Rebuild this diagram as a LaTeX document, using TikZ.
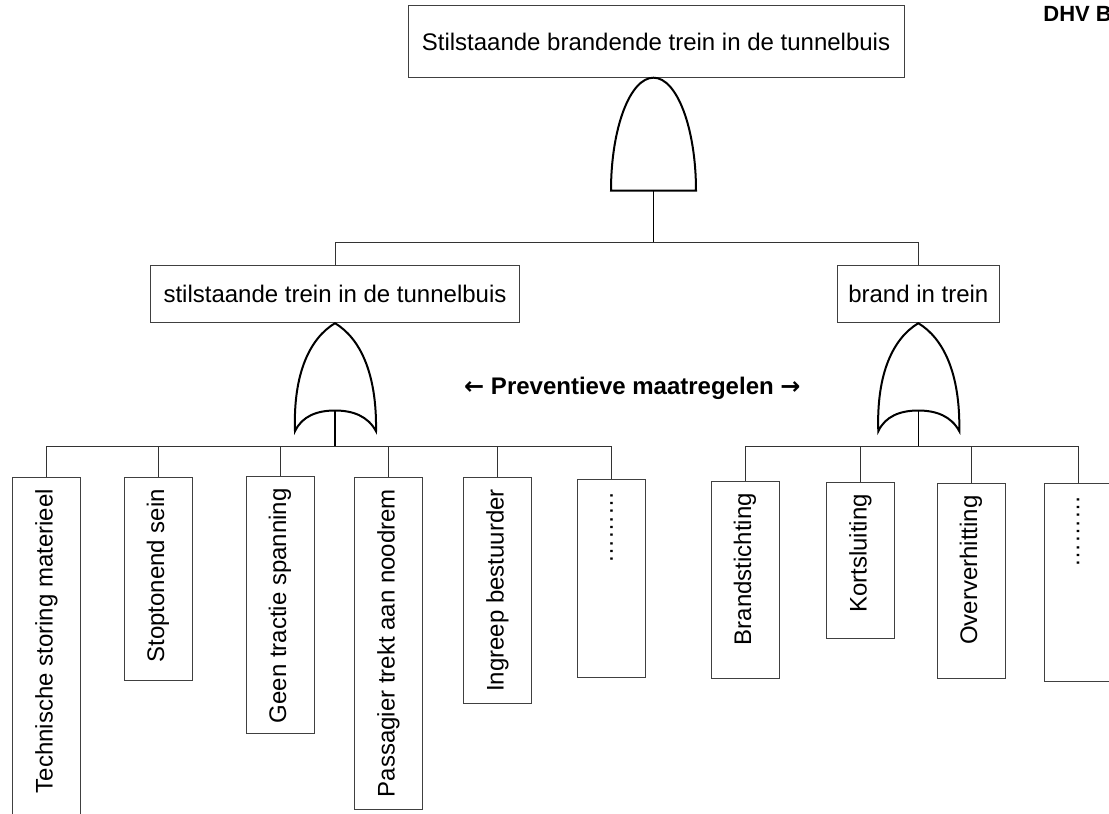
\documentclass[tikz,border=0pt]{standalone}
\usepackage{fontspec}
\setmainfont{Liberation Sans}
\newfontfamily\arrowfont{DejaVu Sans}
\tikzset{
  box/.style={draw=black!75, line width=0.5pt, inner sep=0pt, font=\fontsize{12}{14.4}\selectfont},
  leafbox/.style={box, anchor=north, minimum width=34pt},
  leaftext/.style={rotate=90, anchor=east, inner sep=0pt, font=\fontsize{12}{14.4}\selectfont},
  gate/.style={draw=black, line width=1pt},
  conn/.style={draw=black!80, line width=0.5pt},
  stem/.style={draw=black, line width=0.6pt},
  orgate/.pic={
    \draw[gate] (-40,108) .. controls (-42,50) and (-25,15) .. (0,0)
      .. controls (25,15) and (42,50) .. (41,108)
      .. controls (33,93) and (18,87.3) .. (0,87.3)
      .. controls (-18,87.3) and (-33,93) .. (-40,108) -- cycle;
    \coordinate (-base) at (0,87.3);
  }
}
\begin{document}
\begin{tikzpicture}[x=0.5pt,y=-0.5pt]
\clip (0,0) rectangle (1109,814);

% top event and intermediate events
\node[box, minimum width=248pt, minimum height=36.25pt] (top) at (656,41.5) {Stilstaande brandende trein in de tunnelbuis};
\node[box, minimum width=184.3pt, minimum height=28.85pt] (mL) at (335,293.85) {stilstaande trein in de tunnelbuis};
\node[box, minimum width=81pt, minimum height=28.85pt] (mR) at (918.3,293.85) {brand in trein};

% AND gate
\draw[gate] (611,190.7) .. controls (611,128.3) and (630,77.7) .. (653.5,77.7)
  .. controls (677,77.7) and (696,128.3) .. (696,190.7) -- cycle;
\coordinate (andbase) at (653.5,190.7);
\coordinate (topbus) at (653.5,242);
\draw[stem] (andbase) -- (topbus);
\draw[conn] (mL.north) -- (mL.north |- topbus) -- (mR.north |- topbus) -- (mR.north);

% OR gates
\pic (gL) at (mL.south) {orgate};
\pic (gR) at (mR.south) {orgate};

% label
\node[inner sep=0pt, font=\bfseries\fontsize{12}{14.4}\selectfont] (prev) at (632.4,388)
  {{\arrowfont\bfseries ←} Preventieve maatregelen {\arrowfont\bfseries →}};
\node[inner sep=0pt, anchor=base west, font=\bfseries\fontsize{11}{13}\selectfont] (dhv) at (1043,21) {DHV B};

% left leaves
\node[leafbox, minimum height=176.5pt] (t1) at (46.5,476.7) {};
\node[leafbox, minimum height=101.65pt] (t2) at (158,476.7) {};
\node[leafbox, minimum height=128.5pt] (t3) at (280,476) {};
\node[leafbox, minimum height=166.3pt] (t4) at (388.5,476.7) {};
\node[leafbox, minimum height=113.3pt] (t5) at (497.4,476.7) {};
\node[leafbox, minimum height=98.9pt] (t6) at (611.7,479) {};
\node[leaftext] (t1x) at ([yshift=-6pt]t1.north) {Technische storing materieel};
\node[leaftext] (t2x) at ([yshift=-6pt]t2.north) {Stoptonend sein};
\node[leaftext] (t3x) at ([yshift=-6pt]t3.north) {Geen tractie spanning};
\node[leaftext] (t4x) at ([yshift=-6pt]t4.north) {Passagier trekt aan noodrem};
\node[leaftext] (t5x) at ([yshift=-6pt]t5.north) {Ingreep bestuurder};
\node[leaftext] (t6x) at ([yshift=-6pt]t6.north) {………};

% right leaves
\node[leafbox, minimum height=98.35pt] (r1) at (745,480.8) {};
\node[leafbox, minimum height=77.9pt] (r2) at (860.5,481.8) {};
\node[leafbox, minimum height=97.15pt] (r3) at (971,483.2) {};
\node[leafbox, minimum height=98.9pt] (r4) at (1078,483.2) {};
\node[leaftext] (r1x) at ([yshift=-6pt]r1.north) {Brandstichting};
\node[leaftext] (r2x) at ([yshift=-6pt]r2.north) {Kortsluiting};
\node[leaftext] (r3x) at ([yshift=-6pt]r3.north) {Oververhitting};
\node[leaftext] (r4x) at ([yshift=-6pt]r4.north) {………};

% left bus
\coordinate (busL) at (335,446);
\draw[stem] (gL-base) -- (busL);
\draw[conn] (t1.north) -- (t1.north |- busL) -- (t6.north |- busL) -- (t6.north);
\foreach \n in {t2,t3,t4,t5} \draw[conn] (\n.north) -- (\n.north |- busL);

% right bus
\coordinate (busR) at (918.3,446.5);
\draw[stem] (gR-base) -- (busR);
\draw[conn] (r1.north) -- (r1.north |- busR) -- (r4.north |- busR) -- (r4.north);
\foreach \n in {r2,r3} \draw[conn] (\n.north) -- (\n.north |- busR);
\end{tikzpicture}
\end{document}
